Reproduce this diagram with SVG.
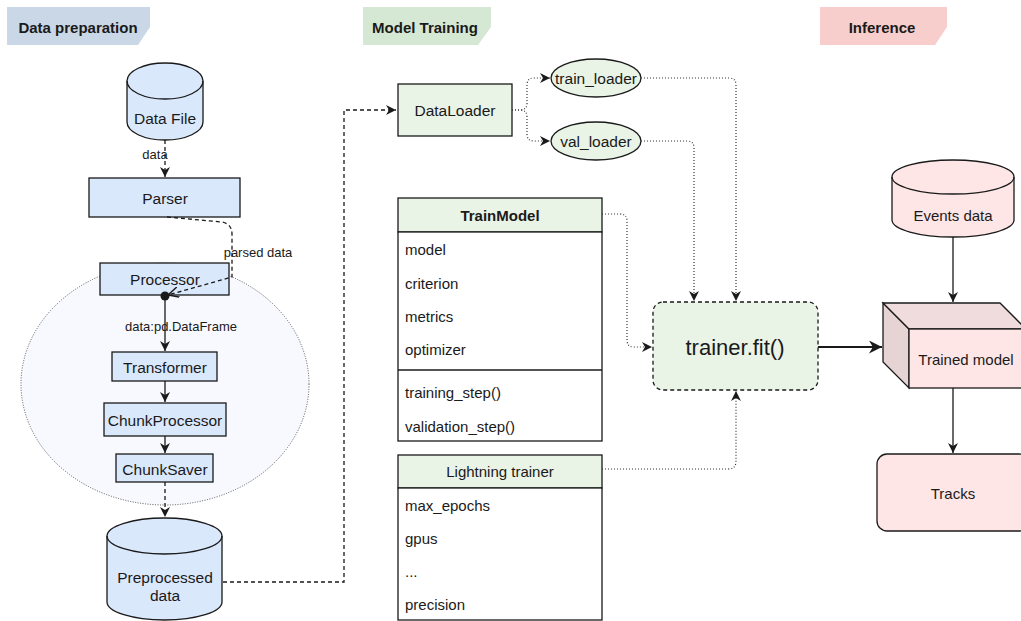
<svg xmlns="http://www.w3.org/2000/svg" width="1021" height="621" viewBox="0 0 1021 621">
<style>
text{font-family:"Liberation Sans",Arial,sans-serif;fill:#1a1a1a;dominant-baseline:central}
.c{text-anchor:middle}
.n{font-size:15.5px}
.s{font-size:15px}
.lbl{font-size:13px}
.hdr{font-size:15px;font-weight:bold;text-anchor:middle}
.blue{fill:#dae8fc;stroke:#1a1a1a;stroke-width:1.3}
.green{fill:#e9f3e6;stroke:#1a1a1a;stroke-width:1.3}
.pink{fill:#ffe6e6;stroke:#1a1a1a;stroke-width:1.3}
.line{fill:none;stroke:#1a1a1a;stroke-width:1.3}
.dash{fill:none;stroke:#1a1a1a;stroke-width:1.3;stroke-dasharray:4 3}
.dot{fill:none;stroke:#333;stroke-width:1.2;stroke-dasharray:1 2}
</style>
<defs>
<marker id="arr" viewBox="0 0 10 10" refX="10" refY="5" markerWidth="10" markerHeight="10" markerUnits="userSpaceOnUse" orient="auto">
<path d="M0,0 L10,5 L0,10 L3,5 Z" fill="#1a1a1a"/>
</marker>
<marker id="arrB" viewBox="0 0 10 10" refX="10" refY="5" markerWidth="13" markerHeight="13" markerUnits="userSpaceOnUse" orient="auto">
<path d="M0,0 L10,5 L0,10 L3,5 Z" fill="#1a1a1a"/>
</marker>
<marker id="open" viewBox="0 0 10 10" refX="10" refY="5" markerWidth="11" markerHeight="11" markerUnits="userSpaceOnUse" orient="auto">
<path d="M0,0 L10,5 L0,10" fill="none" stroke="#1a1a1a" stroke-width="1.3"/>
</marker>
</defs>
<rect width="1021" height="621" fill="#ffffff"/>

<!-- headers -->
<g id="hdr-data-prep">
<polygon points="7,7 150,7 150,27 138,45 7,45" fill="#c9d7e7"/>
<text class="hdr" x="78" y="27">Data preparation</text>
</g>
<g id="hdr-model-training">
<polygon points="363,7 491,7 491,27 478,45 363,45" fill="#d5e8d4"/>
<text class="hdr" x="425" y="27">Model Training</text>
</g>
<g id="hdr-inference">
<polygon points="820,7 947,7 947,27 935,45 820,45" fill="#f8cecc"/>
<text class="hdr" x="882" y="27">Inference</text>
</g>

<!-- processing group ellipse -->
<g id="processing-group">
<ellipse cx="165" cy="384" rx="144" ry="121" fill="#f7f9ff" stroke="#555" stroke-width="1" stroke-dasharray="1 1.5"/>
</g>

<!-- data preparation nodes -->
<g id="data-file">
<path class="blue" d="M127,81 A38,18 0 0 1 203,81 L203,122 A38,18 0 0 1 127,122 Z"/>
<path class="line" d="M127,81 A38,18 0 0 0 203,81"/>
<text class="n c" x="165" y="118">Data File</text>
</g>
<g id="parser">
<rect class="blue" x="89" y="178" width="151" height="39"/>
<text class="n c" x="165" y="198">Parser</text>
</g>
<g id="processor">
<rect class="blue" x="100" y="263" width="129" height="32"/>
<text class="n c" x="165" y="279">Processor</text>
</g>
<g id="transformer">
<rect class="blue" x="112" y="352" width="105" height="29"/>
<text class="n c" x="165" y="367">Transformer</text>
</g>
<g id="chunk-processor">
<rect class="blue" x="104" y="403" width="122" height="33"/>
<text class="n c" x="165" y="420">ChunkProcessor</text>
</g>
<g id="chunk-saver">
<rect class="blue" x="116" y="454" width="97" height="28"/>
<text class="n c" x="165" y="469">ChunkSaver</text>
</g>
<g id="preprocessed-data">
<path class="blue" d="M107,536 A57.5,18 0 0 1 222,536 L222,602 A57.5,18 0 0 1 107,602 Z"/>
<path class="line" d="M107,536 A57.5,18 0 0 0 222,536"/>
<text class="n c" x="165" y="577">Preprocessed</text>
<text class="n c" x="165" y="595">data</text>
</g>

<!-- model training nodes -->
<g id="dataloader">
<rect class="green" x="398" y="84" width="114" height="52"/>
<text class="n c" x="455" y="110">DataLoader</text>
</g>
<g id="train-loader">
<ellipse class="green" cx="596" cy="78" rx="45" ry="19"/>
<text class="n c" x="596" y="78">train_loader</text>
</g>
<g id="val-loader">
<ellipse class="green" cx="596" cy="141" rx="45" ry="19"/>
<text class="n c" x="596" y="141">val_loader</text>
</g>
<g id="train-model">
<rect class="green" x="398" y="198" width="204" height="34"/>
<rect x="398" y="232" width="204" height="209" fill="#ffffff" stroke="#1a1a1a" stroke-width="1.3"/>
<line class="line" x1="398" y1="370" x2="602" y2="370"/>
<text class="s c" x="500" y="215" font-weight="bold">TrainModel</text>
<text class="s" x="405" y="249">model</text>
<text class="s" x="405" y="283">criterion</text>
<text class="s" x="405" y="316">metrics</text>
<text class="s" x="405" y="349">optimizer</text>
<text class="s" x="405" y="392">training_step()</text>
<text class="s" x="405" y="426">validation_step()</text>
</g>
<g id="lightning-trainer">
<rect class="green" x="398" y="455" width="204" height="33"/>
<rect x="398" y="488" width="204" height="132" fill="#ffffff" stroke="#1a1a1a" stroke-width="1.3"/>
<text class="s c" x="500" y="471">Lightning trainer</text>
<text class="s" x="405" y="505">max_epochs</text>
<text class="s" x="405" y="538">gpus</text>
<text class="s" x="405" y="571">...</text>
<text class="s" x="405" y="604">precision</text>
</g>
<g id="trainer-fit">
<rect x="653" y="302" width="165" height="88" rx="10" fill="#e9f3e6" stroke="#1a1a1a" stroke-width="1.3" stroke-dasharray="4 3"/>
<text class="c" x="735" y="347" font-size="22">trainer.fit()</text>
</g>

<!-- inference nodes -->
<g id="events-data">
<path class="pink" d="M892,177 A61,17 0 0 1 1014,177 L1014,220 A61,17 0 0 1 892,220 Z"/>
<path class="line" d="M892,177 A61,17 0 0 0 1014,177"/>
<text class="s c" x="953" y="215">Events data</text>
</g>
<g id="trained-model">
<polygon points="883,303 909,329 909,388 883,362" fill="#e6d3d3" stroke="#1a1a1a" stroke-width="1.3"/>
<polygon points="883,303 1000,303 1026,329 909,329" fill="#f0dcdc" stroke="#1a1a1a" stroke-width="1.3"/>
<rect x="909" y="329" width="117" height="59" fill="#ffe6e6" stroke="#1a1a1a" stroke-width="1.3"/>
<text class="s c" x="966" y="359">Trained model</text>
</g>
<g id="tracks">
<rect class="pink" x="877" y="454" width="152" height="77" rx="10"/>
<text class="s c" x="953" y="493">Tracks</text>
</g>

<!-- connectors -->
<g id="connectors">
<path class="dash" d="M165,140 L165,177" marker-end="url(#arr)"/>
<text class="lbl c" x="155" y="154">data</text>
<path class="dash" d="M167,217 L222,222 Q232,224 232,234 L232,277 L168,295" marker-end="url(#open)"/>
<text class="lbl c" x="258" y="252">parsed data</text>
<circle cx="165" cy="296" r="4.5" fill="#1a1a1a"/>
<path class="line" d="M165,296 L165,351" marker-end="url(#arr)"/>
<text class="lbl c" x="181" y="326">data:pd.DataFrame</text>
<path class="line" d="M165,381 L165,402" marker-end="url(#arr)"/>
<path class="line" d="M165,436 L165,453" marker-end="url(#arr)"/>
<path class="dash" d="M165,482 L165,517" marker-end="url(#arr)"/>
<path class="dash" d="M223,582 L344,582 L344,110 L396,110" marker-end="url(#arr)"/>
<path class="dot" d="M512,110 L520,110 Q527,110 527,103 L527,85 Q527,78 534,78 L550,78" marker-end="url(#arr)"/>
<path class="dot" d="M512,110 L520,110 Q527,110 527,117 L527,134 Q527,141 534,141 L550,141" marker-end="url(#arr)"/>
<path class="dot" d="M641,78 L729,78 Q736,78 736,85 L736,301" marker-end="url(#arr)"/>
<path class="dot" d="M641,141 L687,141 Q694,141 694,148 L694,301" marker-end="url(#arr)"/>
<path class="dot" d="M602,214 L620,214 Q627,214 627,221 L627,340 Q627,347 634,347 L652,347" marker-end="url(#arr)"/>
<path class="dot" d="M602,469 L728,469 Q736,469 736,461 L736,391" marker-end="url(#arr)"/>
<path class="line" style="stroke-width:2.2" d="M818,347 L882,347" marker-end="url(#arrB)"/>
<path class="line" d="M953,237 L953,302" marker-end="url(#arr)"/>
<path class="line" d="M953,388 L953,453" marker-end="url(#arr)"/>
</g>
</svg>
